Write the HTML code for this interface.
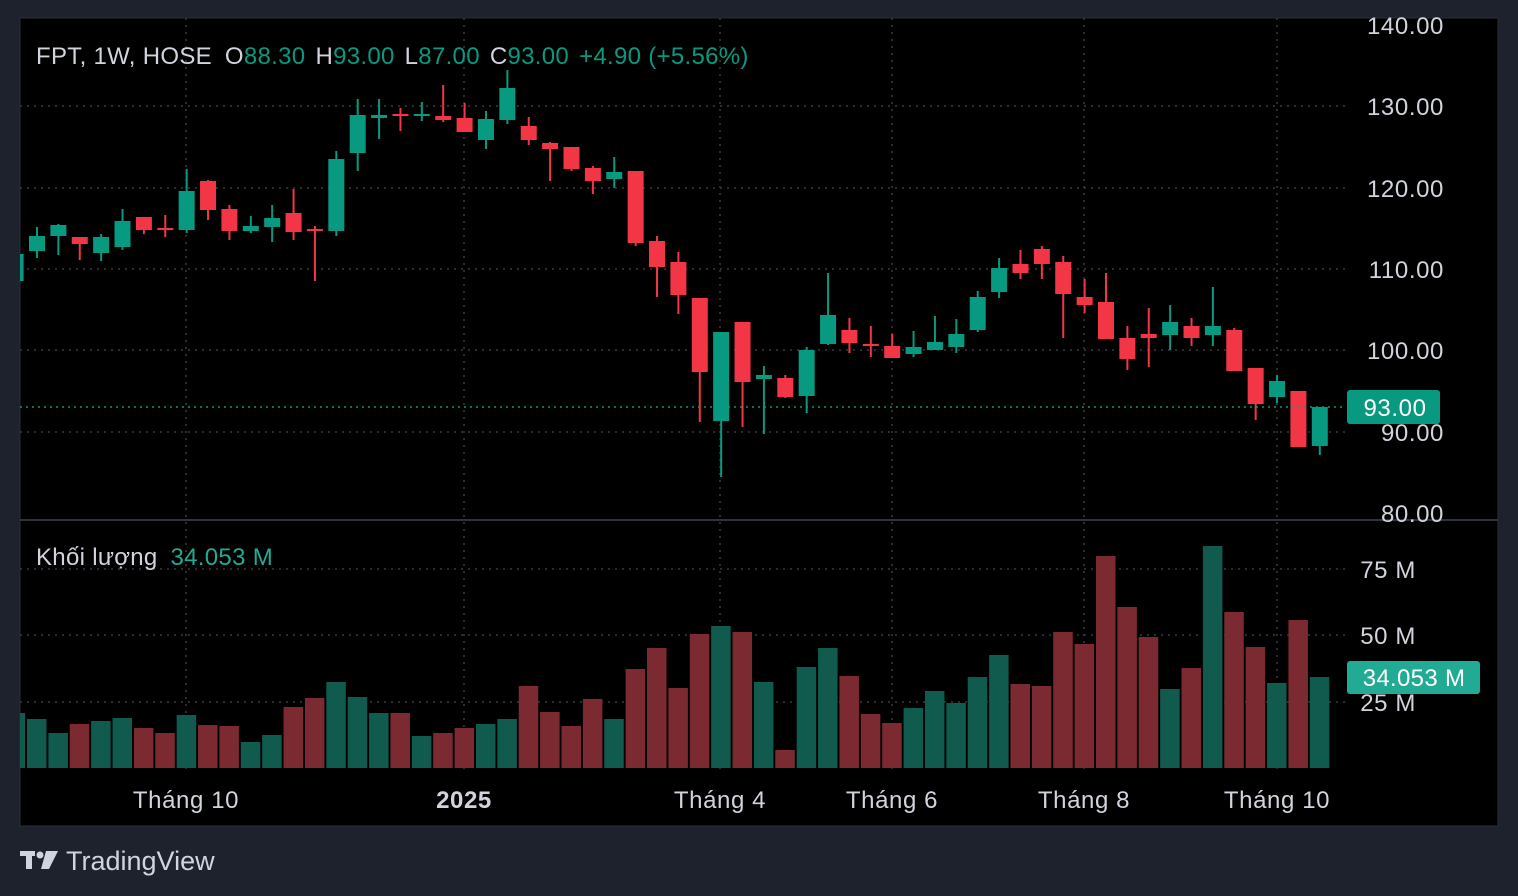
<!DOCTYPE html>
<html><head><meta charset="utf-8"><style>
html,body{margin:0;padding:0;background:#1e222d;width:1518px;height:896px;overflow:hidden}
svg{display:block}
text{font-family:"Liberation Sans","DejaVu Sans",sans-serif}
</style></head><body>
<svg id="s" width="1518" height="896" xmlns="http://www.w3.org/2000/svg">
<defs><clipPath id="cp"><rect x="20" y="18" width="1478" height="808"/></clipPath></defs>
<rect x="0" y="0" width="1518" height="896" fill="#1e222d"/>
<rect x="20" y="18" width="1478" height="808" fill="#000" stroke="#2a2e39" stroke-width="1"/>
<g id="grid" stroke="#363a45" stroke-width="1.5" stroke-dasharray="2,5"></g>
<line x1="20" y1="520" x2="1498" y2="520" stroke="#2e323d" stroke-width="2"/>
<g id="vol" clip-path="url(#cp)"></g>
<g id="cand" clip-path="url(#cp)"></g>
<line x1="20" y1="407" x2="1345" y2="407" stroke="#089981" stroke-width="1.5" stroke-dasharray="2,4"/>
<g fill="#d1d4dc" font-size="24" letter-spacing="0.6" text-anchor="end">
<text x="1444" y="34">140.00</text>
<text x="1444" y="115">130.00</text>
<text x="1444" y="197">120.00</text>
<text x="1444" y="278">110.00</text>
<text x="1444" y="359">100.00</text>
<text x="1444" y="441">90.00</text>
<text x="1444" y="522">80.00</text>
<text x="1416" y="578">75 M</text>
<text x="1416" y="644">50 M</text>
<text x="1416" y="711">25 M</text>
</g>
<rect x="1347" y="390" width="93" height="34" rx="3" fill="#089981"/>
<text x="1395" y="416" font-size="24" letter-spacing="0.6" fill="#fff" text-anchor="middle">93.00</text>
<rect x="1347" y="661" width="133" height="33" rx="3" fill="#22ab94"/>
<text x="1414" y="686" font-size="24" letter-spacing="0.3" fill="#fff" text-anchor="middle">34.053 M</text>
<g font-size="24" letter-spacing="0.6" fill="#d1d4dc" text-anchor="middle">
<text x="186" y="808">Tháng 10</text>
<text x="464" y="808" font-weight="bold">2025</text>
<text x="720" y="808">Tháng 4</text>
<text x="892" y="808">Tháng 6</text>
<text x="1084" y="808">Tháng 8</text>
<text x="1277" y="808">Tháng 10</text>
</g>
<text x="36" y="64" font-size="24" letter-spacing="0.3" fill="#d1d4dc">FPT, 1W, HOSE <tspan dx="6">O</tspan><tspan fill="#089981">88.30</tspan><tspan dx="10">H</tspan><tspan fill="#089981">93.00</tspan><tspan dx="10">L</tspan><tspan fill="#089981">87.00</tspan><tspan dx="10">C</tspan><tspan fill="#089981">93.00</tspan><tspan dx="10" fill="#089981">+4.90 (+5.56%)</tspan></text>
<text x="36" y="565" font-size="24" letter-spacing="0.3" fill="#d1d4dc">Khối lượng <tspan dx="6" fill="#22ab94">34.053 M</tspan></text>
<g fill="#d1d4dc">
<rect x="20" y="851" width="15" height="5"/><rect x="26" y="851" width="6" height="18"/>
<circle cx="40" cy="855" r="3.5"/>
<polygon points="46,851 58,851 49,869 41,869"/>
</g>
<text x="66" y="870" font-size="27" fill="#d1d4dc">TradingView</text>
</svg>
<script>
var NS="http://www.w3.org/2000/svg";
function el(p,t,a){var e=document.createElementNS(NS,t);for(var k in a)e.setAttribute(k,a[k]);p.appendChild(e);return e;}
var g=document.getElementById('grid');
[106,188,269,350,432,569,635,702].forEach(function(y){el(g,'line',{x1:20,y1:y,x2:1345,y2:y});});
[186,464,720,892,1084,1277].forEach(function(x){el(g,'line',{x1:x,y1:18,x2:x,y2:770});});
var C=[
[1,254,281,250,285,713],
[1,236,251,227,258,719],[1,225,236,224,255,733],[0,237,244,237,260,724],[1,237,253,234,261,721],
[1,221,247,209,250,718],[0,217,230,217,234,728],[0,228,230,215,237,733],[1,191,230,169,233,715],
[0,181,210,180,220,725],[0,209,231,205,240,726],[1,226,231,216,233,742],[1,218,227,205,242,735],
[0,213,232,189,240,707],[0,229,231,226,281,698],[1,159,231,151,236,682],[1,115,153,99,171,697],
[1,115,118,99,139,713],[0,114,116,108,131,713],[1,114,116,102,121,736],[0,116,120,85,122,733],
[0,118,132,103,132,728],[1,119,140,111,149,724],[1,88,120,70,124,719],[0,126,140,117,145,686],
[0,143,149,142,181,712],[0,147,169,147,171,726],[0,168,181,166,194,699],[1,172,179,157,188,719],
[0,171,243,171,246,669],[0,241,267,236,297,648],[0,262,295,252,314,688],[0,298,372,298,422,634],
[1,332,421,332,477,626],[0,322,382,322,427,632],[1,375,379,366,434,682],[0,378,397,375,398,750],
[1,350,396,347,413,667],[1,315,344,273,345,648],[0,330,343,318,353,676],[0,344,346,326,357,714],
[0,346,358,334,358,723],[1,347,354,331,357,708],[1,342,350,316,350,691],[1,334,347,319,353,703],
[1,297,330,291,332,677],[1,268,292,258,298,655],[0,264,273,250,279,684],[0,249,264,246,279,686],
[0,262,294,256,338,632],[0,297,305,279,313,644],[0,302,339,273,339,556],[0,338,359,326,370,607],
[0,334,338,308,367,637],[1,322,335,305,350,689],[0,326,338,318,346,668],[1,326,335,287,346,546],
[0,330,371,328,371,612],[0,368,404,368,420,647],[1,381,397,375,403,683],[0,391,447,391,447,620],
[1,407,446,407,455,677]
];
var cg=document.getElementById('cand'),vg=document.getElementById('vol');
C.forEach(function(c,i){
 var x=37+21.38*(i-1);
 var col=c[0]?'#089981':'#f23645';
 var vcol=c[0]?'#105a4e':'#7b2a31';
 el(vg,'rect',{x:x-10,y:c[5],width:19.5,height:768-c[5],fill:vcol});
 el(cg,'rect',{x:x-1,y:c[3],width:2,height:c[4]-c[3],fill:col});
 el(cg,'rect',{x:x-8,y:c[1],width:16,height:Math.max(2,c[2]-c[1]),fill:col});
});
</script>
</body></html>
